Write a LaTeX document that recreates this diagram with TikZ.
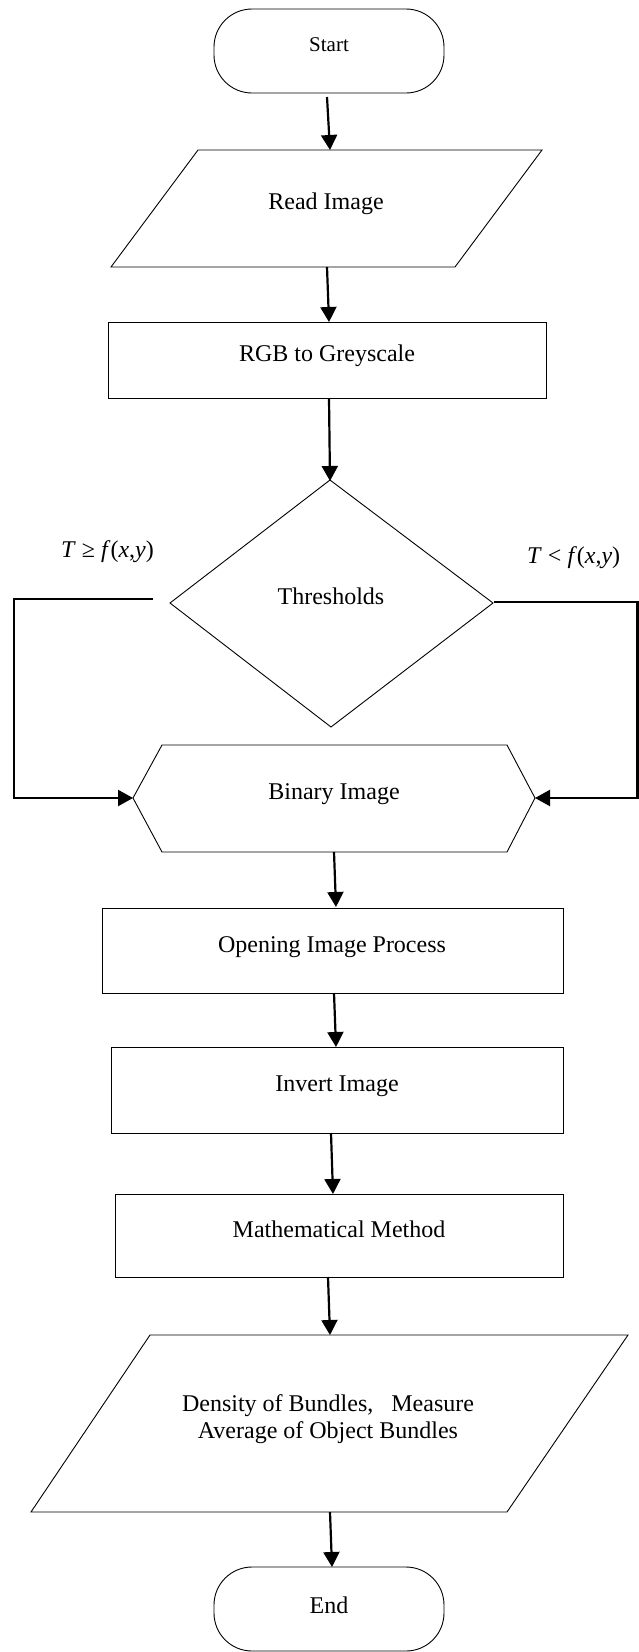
\documentclass[tikz,border=0pt]{standalone}
\usepackage{fontspec}
\setmainfont{Liberation Serif}
\usetikzlibrary{arrows.meta}
\begin{document}
\begin{tikzpicture}[x=1pt,y=-1pt,
  outline/.style={draw, line width=0.9pt, line join=miter},
  conn/.style={line width=2.2pt, -{Triangle[length=15pt,width=16pt]}},
  wire/.style={line width=2.2pt},
  lbl/.style={font=\fontsize{24}{27}\selectfont, inner sep=0pt, anchor=base},
  cond/.style={font=\fontsize{24}{27}\selectfont, inner sep=0pt, anchor=base west}]
\useasboundingbox (0,0) rectangle (639,1652);
\fill[white] (0,0) rectangle (639,1652);

% ---- shapes ----
% Start terminal
\draw[outline, rounded corners=38pt] (214,9) rectangle (444,93);
\node[lbl, font=\fontsize{21}{24}\selectfont] (start) at (329,51) {Start};
% Read Image (parallelogram)
\draw[outline] (198,150) -- (542,150) -- (455,267) -- (111,267) -- cycle;
\node[lbl] (read) at (326,209) {Read Image};
% RGB to Greyscale
\draw[outline] (108,322) rectangle (546,398);
\node[lbl] (rgb) at (327,361) {RGB to Greyscale};
% Thresholds (diamond)
\draw[outline] (330,480) -- (493,603) -- (331,727) -- (170,603) -- cycle;
\node[lbl] (thr) at (331,604) {Thresholds};
\node[cond] (lcond) at (61,557) {\textit{T} ≥ \textit{f}(\textit{x},\textit{y})};
\node[cond] (rcond) at (527,563) {\textit{T} < \textit{f}(\textit{x},\textit{y})};
% Binary Image (hexagon)
\draw[outline] (162,745) -- (507,745) -- (535,798) -- (507,852) -- (162,852) -- (133,798) -- cycle;
\node[lbl] (bin) at (334,799) {Binary Image};
% Opening Image Process
\draw[outline] (102,908) rectangle (563,993);
\node[lbl] (open) at (332,952) {Opening Image Process};
% Invert Image
\draw[outline] (111,1047) rectangle (563,1133);
\node[lbl] (inv) at (337,1091) {Invert Image};
% Mathematical Method
\draw[outline] (115,1194) rectangle (563,1277);
\node[lbl] (math) at (339,1237) {Mathematical Method};
% Output parallelogram
\draw[outline] (150,1335) -- (628,1335) -- (507,1512) -- (31,1512) -- cycle;
\node[font=\fontsize{24}{27}\selectfont, inner sep=0pt, align=center] (dens) at (328,1419)
  {Density of Bundles,\hspace{12pt} Measure\\Average of Object Bundles};
% End terminal
\draw[outline, rounded corners=38pt] (214,1567) rectangle (444,1651);
\node[lbl] (endn) at (329,1613) {End};

% ---- connector end points ----
\coordinate (a1s) at (327,97);   \coordinate (a1e) at (330,150);
\coordinate (a2s) at (327,267);  \coordinate (a2e) at (329,322);
\coordinate (a3s) at (329,398);  \coordinate (a3e) at (330,481);
\coordinate (ls)  at (153,599);  \coordinate (lc1) at (14,599);
\coordinate (lc2) at (14,798);   \coordinate (le)  at (133,798);
\coordinate (rs)  at (494,602);  \coordinate (rc1) at (637.5,602);
\coordinate (rc2) at (637.5,798);\coordinate (re)  at (535,798);
\coordinate (a4s) at (334,852);  \coordinate (a4e) at (336,907);
\coordinate (a5s) at (334,993);  \coordinate (a5e) at (336,1047);
\coordinate (a6s) at (331,1133); \coordinate (a6e) at (333,1194);
\coordinate (a7s) at (328,1277); \coordinate (a7e) at (330,1335);
\coordinate (a8s) at (330,1512); \coordinate (a8e) at (332,1567);

% ---- connectors ----
\draw[conn] (a1s) -- (a1e);
\draw[conn] (a2s) -- (a2e);
\draw[conn] (a3s) -- (a3e);
\draw[conn, line join=miter] (ls) -- (lc1) -- (lc2) -- (le);
\draw[conn, line join=miter] (rs) -- (rc1) -- (rc2) -- (re);
\draw[conn] (a4s) -- (a4e);
\draw[conn] (a5s) -- (a5e);
\draw[conn] (a6s) -- (a6e);
\draw[conn] (a7s) -- (a7e);
\draw[conn] (a8s) -- (a8e);
\end{tikzpicture}
\end{document}
